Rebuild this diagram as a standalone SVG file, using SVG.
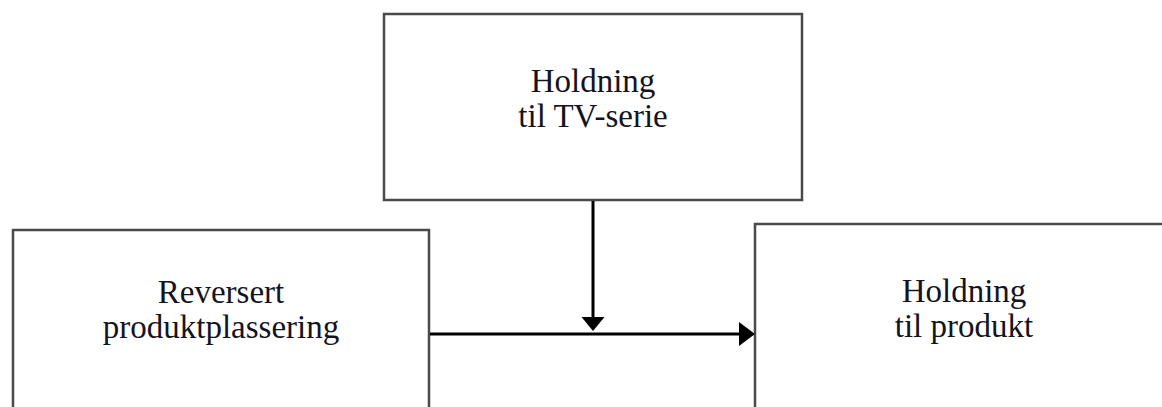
<svg xmlns="http://www.w3.org/2000/svg" width="1162" height="407" viewBox="0 0 1162 407">
  <style>
    .box { fill: #ffffff; stroke: #4a4a4a; stroke-width: 2.5; }
    .label { font-family: "Liberation Serif", "DejaVu Serif", serif; font-size: 33px; fill: #141420; text-anchor: middle; }
    .conn { stroke: #000000; stroke-width: 3; fill: none; }
    .head { fill: #000000; }
  </style>
  <rect width="1162" height="407" fill="#ffffff"/>

  <g id="node-tv-serie">
    <rect class="box" x="384" y="14" width="418" height="186"/>
    <text class="label" x="593" y="92">Holdning</text>
    <text class="label" x="593" y="127">til TV-serie</text>
  </g>

  <g id="node-reversert">
    <rect class="box" x="13" y="230" width="416" height="200"/>
    <text class="label" x="221" y="303">Reversert</text>
    <text class="label" x="221" y="338">produktplassering</text>
  </g>

  <g id="node-produkt">
    <rect class="box" x="755" y="224" width="430" height="210"/>
    <text class="label" x="964" y="302">Holdning</text>
    <text class="label" x="964" y="337">til produkt</text>
  </g>

  <g id="connectors">
    <!-- moderator: TV-serie onto the main path -->
    <line class="conn" x1="593" y1="201" x2="593" y2="318"/>
    <polygon class="head" points="581.5,317 604.5,317 593,331"/>
    <!-- main effect: reversert -> produkt -->
    <line class="conn" x1="430" y1="334" x2="740" y2="334"/>
    <polygon class="head" points="739,322 739,346 755,334"/>
  </g>
</svg>
